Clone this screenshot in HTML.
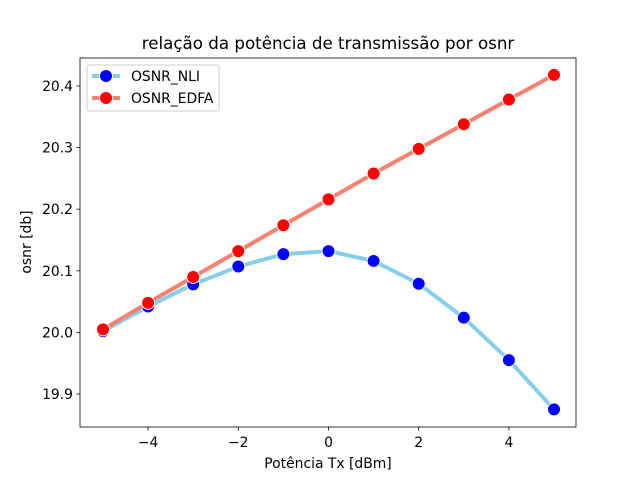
<!DOCTYPE html>
<html><head><meta charset="utf-8"><style>
body{margin:0;background:#fff}
svg text{font-family:"DejaVu Sans","Liberation Sans",sans-serif;fill:#000}
</style></head><body>
<svg id="c" width="640" height="480"></svg>
<script>
const xs=[-5,-4,-3,-2,-1,0,1,2,3,4,5];
const nli=[20.002,20.042,20.078,20.107,20.127,20.132,20.116,20.079,20.024,19.955,19.875];
const edfa=[20.005,20.048,20.090,20.132,20.174,20.216,20.258,20.298,20.338,20.378,20.418];
const xticks=[-4,-2,0,2,4];
const yticks=[19.9,20.0,20.1,20.2,20.3,20.4];
const L=80,R=576,T=58,B=427;
const X=v=>328.5+v*45.1;
const Y=v=>332.4-(v-20)*616;
const s=document.getElementById('c');const NS='http://www.w3.org/2000/svg';
function el(t,a,p){const e=document.createElementNS(NS,t);for(const k in a)e.setAttribute(k,a[k]);(p||s).appendChild(e);return e;}
let t=el('text',{x:328,y:49,'font-size':16.7,'text-anchor':'middle'});t.textContent='relação da potência de transmissão por osnr';

xticks.forEach(v=>{const l=el('line',{x1:X(v),x2:X(v),y1:B,y2:B+3.5,stroke:'#000','stroke-width':0.8});

const tx=el('text',{x:X(v),y:B+20,'font-size':13.9,'text-anchor':'middle'});tx.textContent=(v<0?'−'+(-v):v);
});
yticks.forEach(v=>{const l=el('line',{x1:L-3.5,x2:L,y1:Y(v),y2:Y(v),stroke:'#000','stroke-width':0.8});

const tx=el('text',{x:L-7,y:Y(v)+5,'font-size':13.9,'text-anchor':'end'});tx.textContent=v.toFixed(1);
});
t=el('text',{x:328,y:468,'font-size':13.9,'text-anchor':'middle'});t.textContent='Potência Tx [dBm]';

t=el('text',{x:0,y:0,'font-size':13.9,'text-anchor':'middle',transform:'translate(31,242) rotate(-90)'});t.textContent='osnr [db]';

function series(d,c,n){const p=el('polyline',{points:xs.map((x,i)=>X(x)+','+Y(d[i])).join(' '),fill:'none',stroke:c,'stroke-width':4});

xs.forEach((x,i)=>{const m=el('circle',{cx:X(x),cy:Y(d[i]),r:6.5,fill:n=='nli'?'#0000ff':'#ff0000',stroke:'#fff','stroke-width':1});
});}
series(nli,'#87ceeb','nli');series(edfa,'#fa8072','edfa');
const ax=el('rect',{x:L,y:T,width:R-L,height:B-T,fill:'none',stroke:'#000','stroke-width':0.8});

const g=el('g',{});
el('rect',{x:87,y:65,width:132,height:46,rx:2,fill:'#fff','fill-opacity':0.8,stroke:'#ccc'},g);
[['OSNR_NLI','#87ceeb','#0000ff',76],['OSNR_EDFA','#fa8072','#ff0000',98]].forEach(a=>{
el('line',{x1:92,x2:120,y1:a[3],y2:a[3],stroke:a[1],'stroke-width':4},g);
el('circle',{cx:106,cy:a[3],r:6.5,fill:a[2],stroke:'#fff'},g);
const tx=el('text',{x:131,y:a[3]+5,'font-size':13.9},g);tx.textContent=a[0];
});
</script></body></html>
